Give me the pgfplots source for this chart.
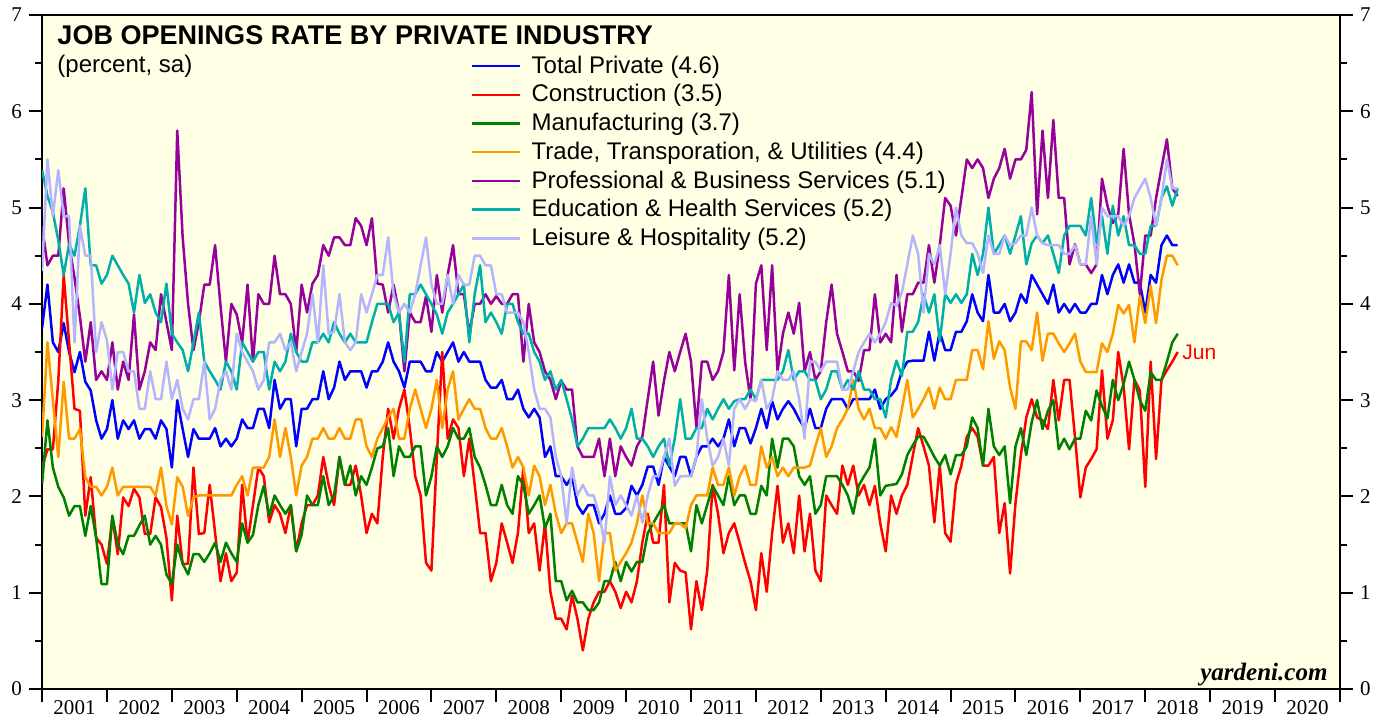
\documentclass[border=0pt]{standalone}
\usepackage{fontspec}
\setmainfont{Liberation Sans}
\newfontfamily\tnr{Liberation Serif}
\usepackage{pgfplots}
\pgfplotsset{compat=1.18}
\definecolor{bgyellow}{RGB}{255,255,230}
\definecolor{cblue}{RGB}{0,0,255}
\definecolor{cred}{RGB}{255,0,0}
\definecolor{cgreen}{RGB}{0,128,0}
\definecolor{corange}{RGB}{255,153,0}
\definecolor{cpurple}{RGB}{150,0,155}
\definecolor{cteal}{RGB}{0,175,170}
\definecolor{clav}{RGB}{180,180,255}
\begin{document}
\begin{tikzpicture}
\begin{axis}[
  width=648pt, height=336.5pt, scale only axis,
  at={(0,0)}, anchor=south west,
  xmin=0, xmax=240, ymin=0, ymax=7,
  axis background/.style={fill=bgyellow},
  axis line style={line width=1.2pt},
  xtick={0,12,...,240}, xticklabels={},
  xtick pos=bottom, ytick pos=left,
  tick align=outside,
  xtick style={line width=1pt, black},
  ytick style={line width=1pt, black},
  major tick length=6.5pt, minor tick length=3.5pt,
  extra x ticks={6,18,...,234},
  extra x tick labels={2001,2002,2003,2004,2005,2006,2007,2008,2009,2010,2011,2012,2013,2014,2015,2016,2017,2018,2019,2020},
  extra x tick style={major tick length=0pt, tick label style={yshift=-2pt}},
  ytick={0,1,...,7},
  minor ytick={0.5,1.5,...,6.5},
  tick label style={font=\tnr\fontsize{10.5}{12}\selectfont},
  /pgf/number format/assume math mode=true,
  legend cell align=left,
  legend style={at={(0.3302,0.946)}, anchor=north west, draw=none, fill=none,
    font=\fontsize{12}{14}\selectfont, inner sep=0pt, row sep=0.15pt},
  /tikz/every odd column/.append style={column sep=3pt},
  legend image code/.code={\draw[#1, line width=1.25pt] (0pt,0pt) -- (24pt,0pt);},
  every axis plot/.append style={line width=1.25pt, line join=round},
]
\addplot[cblue] coordinates {(0,3.75)(1,4.2)(2,3.6)(3,3.5)(4,3.8)(5,3.5)(6,3.29)(7,3.5)(8,3.19)(9,3.1)(10,2.79)(11,2.6)(12,2.7)(13,3.0)(14,2.6)(15,2.79)(16,2.7)(17,2.79)(18,2.6)(19,2.7)(20,2.7)(21,2.6)(22,2.79)(23,2.7)(24,2.3)(25,3.0)(26,2.7)(27,2.41)(28,2.7)(29,2.6)(30,2.6)(31,2.6)(32,2.71)(33,2.52)(34,2.6)(35,2.52)(36,2.6)(37,2.8)(38,2.71)(39,2.71)(40,2.91)(41,2.91)(42,2.71)(43,3.21)(44,2.91)(45,3.01)(46,3.01)(47,2.52)(48,2.91)(49,2.91)(50,3.01)(51,3.01)(52,3.3)(53,3.01)(54,3.13)(55,3.4)(56,3.21)(57,3.3)(58,3.3)(59,3.3)(60,3.13)(61,3.3)(62,3.3)(63,3.4)(64,3.6)(65,3.4)(66,3.3)(67,3.13)(68,3.4)(69,3.4)(70,3.4)(71,3.3)(72,3.3)(73,3.5)(74,3.4)(75,3.5)(76,3.6)(77,3.4)(78,3.5)(79,3.4)(80,3.4)(81,3.4)(82,3.21)(83,3.13)(84,3.13)(85,3.21)(86,3.01)(87,3.01)(88,3.11)(89,2.91)(90,2.82)(91,2.91)(92,2.82)(93,2.41)(94,2.52)(95,2.21)(96,2.21)(97,2.12)(98,2.21)(99,1.91)(100,1.82)(101,1.91)(102,1.91)(103,1.72)(104,1.82)(105,2.01)(106,1.82)(107,1.82)(108,1.88)(109,2.11)(110,2.01)(111,2.12)(112,2.31)(113,2.31)(114,2.12)(115,2.41)(116,2.31)(117,2.21)(118,2.41)(119,2.41)(120,2.21)(121,2.41)(122,2.52)(123,2.52)(124,2.6)(125,2.52)(126,2.6)(127,2.8)(128,2.52)(129,2.71)(130,2.71)(131,2.55)(132,2.71)(133,2.91)(134,2.71)(135,2.99)(136,2.8)(137,2.91)(138,2.99)(139,2.91)(140,2.8)(141,2.71)(142,2.91)(143,2.71)(144,2.71)(145,2.91)(146,3.01)(147,3.01)(148,3.01)(149,2.91)(150,3.01)(151,3.01)(152,3.01)(153,3.01)(154,3.11)(155,2.91)(156,3.01)(157,3.05)(158,3.12)(159,3.3)(160,3.4)(161,3.41)(162,3.41)(163,3.41)(164,3.71)(165,3.41)(166,3.71)(167,3.52)(168,3.52)(169,3.71)(170,3.71)(171,3.82)(172,4.1)(173,3.91)(174,3.82)(175,4.3)(176,3.91)(177,3.91)(178,4.0)(179,3.82)(180,3.91)(181,4.1)(182,4.01)(183,4.3)(184,4.2)(185,4.1)(186,4.0)(187,4.2)(188,3.91)(189,4.0)(190,3.91)(191,4.0)(192,3.91)(193,3.91)(194,4.0)(195,4.0)(196,4.3)(197,4.1)(198,4.3)(199,4.41)(200,4.22)(201,4.41)(202,4.22)(203,4.22)(204,3.91)(205,4.3)(206,4.22)(207,4.61)(208,4.71)(209,4.61)(210,4.61)};
\addlegendentry{Total Private (4.6)}
\addplot[cred] coordinates {(0,2.3)(1,2.49)(2,2.49)(3,3.2)(4,4.3)(5,3.6)(6,2.91)(7,2.89)(8,1.8)(9,2.2)(10,1.57)(11,1.5)(12,1.3)(13,1.78)(14,1.4)(15,1.99)(16,1.9)(17,2.08)(18,1.99)(19,1.61)(20,1.61)(21,1.99)(22,1.89)(23,1.57)(24,0.92)(25,1.8)(26,1.3)(27,1.3)(28,2.3)(29,1.61)(30,1.62)(31,2.12)(32,1.62)(33,1.12)(34,1.41)(35,1.12)(36,1.21)(37,2.12)(38,1.52)(39,1.91)(40,2.3)(41,2.21)(42,1.73)(43,1.91)(44,1.82)(45,1.62)(46,1.91)(47,1.43)(48,1.72)(49,1.91)(50,1.91)(51,2.01)(52,2.41)(53,2.12)(54,1.91)(55,2.41)(56,2.12)(57,2.12)(58,2.32)(59,2.01)(60,1.62)(61,1.82)(62,1.72)(63,2.41)(64,2.91)(65,2.6)(66,2.91)(67,3.11)(68,2.71)(69,2.21)(70,2.01)(71,1.31)(72,1.23)(73,2.41)(74,3.5)(75,2.6)(76,2.8)(77,2.71)(78,2.21)(79,2.6)(80,2.12)(81,1.62)(82,1.62)(83,1.12)(84,1.31)(85,1.72)(86,1.52)(87,1.31)(88,1.62)(89,2.3)(90,1.62)(91,1.72)(92,1.23)(93,1.72)(94,1.01)(95,0.73)(96,0.73)(97,0.62)(98,0.97)(99,0.73)(100,0.4)(101,0.73)(102,0.9)(103,1.01)(104,1.01)(105,1.12)(106,1.01)(107,0.84)(108,1.01)(109,0.9)(110,1.12)(111,1.52)(112,1.82)(113,1.52)(114,1.52)(115,2.12)(116,0.9)(117,1.31)(118,1.23)(119,1.21)(120,0.62)(121,1.12)(122,0.82)(123,1.23)(124,2.12)(125,1.82)(126,1.41)(127,1.62)(128,1.72)(129,1.52)(130,1.31)(131,1.12)(132,0.82)(133,1.41)(134,1.01)(135,1.62)(136,2.11)(137,1.52)(138,1.72)(139,1.41)(140,2.01)(141,1.43)(142,1.82)(143,1.23)(144,1.12)(145,2.01)(146,1.91)(147,1.82)(148,2.32)(149,2.12)(150,2.32)(151,2.01)(152,2.12)(153,1.91)(154,2.11)(155,1.72)(156,1.43)(157,2.01)(158,1.82)(159,2.01)(160,2.12)(161,2.42)(162,2.71)(163,2.52)(164,2.32)(165,1.73)(166,2.32)(167,1.62)(168,1.53)(169,2.13)(170,2.32)(171,2.62)(172,2.71)(173,2.62)(174,2.32)(175,2.32)(176,2.41)(177,1.62)(178,1.93)(179,1.2)(180,1.93)(181,2.43)(182,2.82)(183,3.01)(184,2.82)(185,2.79)(186,2.7)(187,3.21)(188,2.79)(189,3.21)(190,3.21)(191,2.62)(192,1.99)(193,2.3)(194,2.39)(195,2.49)(196,3.31)(197,2.6)(198,2.79)(199,3.5)(200,3.14)(201,2.49)(202,3.21)(203,3.1)(204,2.1)(205,3.4)(206,2.39)(207,3.21)(208,3.31)(209,3.4)(210,3.5)};
\addlegendentry{Construction (3.5)}
\addplot[cgreen] coordinates {(0,2.13)(1,2.79)(2,2.3)(3,2.1)(4,1.99)(5,1.8)(6,1.9)(7,1.9)(8,1.59)(9,1.9)(10,1.57)(11,1.09)(12,1.09)(13,1.8)(14,1.5)(15,1.4)(16,1.59)(17,1.59)(18,1.7)(19,1.8)(20,1.5)(21,1.59)(22,1.5)(23,1.19)(24,1.09)(25,1.5)(26,1.3)(27,1.19)(28,1.4)(29,1.4)(30,1.32)(31,1.41)(32,1.52)(33,1.32)(34,1.52)(35,1.41)(36,1.32)(37,1.72)(38,1.52)(39,1.6)(40,1.91)(41,2.11)(42,1.8)(43,2.01)(44,1.91)(45,1.82)(46,1.91)(47,1.43)(48,1.6)(49,2.01)(50,1.91)(51,1.91)(52,2.21)(53,1.91)(54,2.01)(55,2.41)(56,2.12)(57,2.32)(58,2.01)(59,2.21)(60,2.12)(61,2.3)(62,2.5)(63,2.52)(64,2.71)(65,2.21)(66,2.52)(67,2.41)(68,2.41)(69,2.52)(70,2.52)(71,2.01)(72,2.21)(73,2.52)(74,2.41)(75,2.52)(76,2.71)(77,2.6)(78,2.6)(79,2.71)(80,2.41)(81,2.3)(82,2.12)(83,1.91)(84,1.91)(85,2.12)(86,1.91)(87,1.82)(88,2.21)(89,2.12)(90,1.82)(91,1.91)(92,2.01)(93,1.67)(94,1.82)(95,1.12)(96,1.12)(97,0.92)(98,1.02)(99,0.9)(100,0.9)(101,0.82)(102,0.82)(103,0.9)(104,1.12)(105,1.12)(106,1.32)(107,1.12)(108,1.32)(109,1.22)(110,1.32)(111,1.32)(112,1.62)(113,1.72)(114,1.82)(115,1.91)(116,1.72)(117,1.72)(118,1.72)(119,1.72)(120,1.43)(121,1.91)(122,1.72)(123,1.91)(124,2.11)(125,2.01)(126,1.91)(127,2.21)(128,1.91)(129,2.01)(130,2.01)(131,1.82)(132,1.82)(133,2.11)(134,2.01)(135,2.6)(136,2.3)(137,2.6)(138,2.6)(139,2.52)(140,2.21)(141,2.12)(142,2.21)(143,1.82)(144,1.91)(145,2.21)(146,2.21)(147,2.21)(148,2.12)(149,2.01)(150,1.82)(151,2.11)(152,2.21)(153,2.3)(154,2.6)(155,2.01)(156,2.11)(157,2.12)(158,2.13)(159,2.23)(160,2.43)(161,2.53)(162,2.62)(163,2.62)(164,2.52)(165,2.41)(166,2.32)(167,2.43)(168,2.23)(169,2.43)(170,2.43)(171,2.52)(172,2.82)(173,2.71)(174,2.32)(175,2.91)(176,2.52)(177,2.43)(178,2.52)(179,1.93)(180,2.52)(181,2.71)(182,2.43)(183,2.77)(184,3.0)(185,2.7)(186,2.89)(187,3.0)(188,2.49)(189,2.6)(190,2.49)(191,2.6)(192,2.6)(193,2.89)(194,2.79)(195,3.1)(196,2.94)(197,2.81)(198,3.21)(199,3.0)(200,3.17)(201,3.4)(202,3.21)(203,3.0)(204,2.89)(205,3.29)(206,3.21)(207,3.21)(208,3.4)(209,3.6)(210,3.69)};
\addlegendentry{Manufacturing (3.7)}
\addplot[corange] coordinates {(0,2.62)(1,3.6)(2,3.0)(3,2.41)(4,3.19)(5,2.6)(6,2.6)(7,2.7)(8,2.2)(9,2.1)(10,2.1)(11,2.01)(12,2.1)(13,2.3)(14,2.01)(15,2.1)(16,2.1)(17,2.1)(18,2.1)(19,2.1)(20,2.1)(21,2.01)(22,2.3)(23,1.9)(24,1.71)(25,2.2)(26,2.1)(27,1.8)(28,1.99)(29,2.01)(30,2.01)(31,2.01)(32,2.01)(33,2.01)(34,2.01)(35,2.01)(36,2.12)(37,2.21)(38,2.01)(39,2.3)(40,2.3)(41,2.3)(42,2.41)(43,2.8)(44,2.41)(45,2.71)(46,2.41)(47,2.01)(48,2.32)(49,2.41)(50,2.6)(51,2.6)(52,2.71)(53,2.6)(54,2.6)(55,2.71)(56,2.6)(57,2.6)(58,2.8)(59,2.8)(60,2.52)(61,2.41)(62,2.6)(63,2.71)(64,2.82)(65,2.91)(66,2.6)(67,2.6)(68,2.91)(69,3.11)(70,2.91)(71,2.71)(72,2.91)(73,3.21)(74,2.71)(75,3.11)(76,3.3)(77,2.8)(78,2.91)(79,3.01)(80,2.91)(81,2.91)(82,2.71)(83,2.6)(84,2.6)(85,2.71)(86,2.52)(87,2.3)(88,2.41)(89,2.3)(90,2.01)(91,2.32)(92,2.21)(93,1.91)(94,2.12)(95,1.82)(96,1.62)(97,1.72)(98,1.72)(99,1.52)(100,1.32)(101,1.82)(102,1.62)(103,1.12)(104,1.62)(105,1.62)(106,1.23)(107,1.32)(108,1.41)(109,1.52)(110,1.72)(111,2.01)(112,1.72)(113,1.72)(114,1.62)(115,1.62)(116,1.62)(117,1.72)(118,1.72)(119,1.67)(120,1.91)(121,2.01)(122,2.01)(123,2.01)(124,2.3)(125,2.12)(126,2.12)(127,2.3)(128,2.01)(129,2.21)(130,2.32)(131,2.12)(132,2.12)(133,2.52)(134,2.3)(135,2.41)(136,2.21)(137,2.3)(138,2.21)(139,2.3)(140,2.3)(141,2.3)(142,2.32)(143,2.52)(144,2.71)(145,2.41)(146,2.52)(147,2.71)(148,2.8)(149,2.91)(150,3.21)(151,2.91)(152,2.8)(153,2.91)(154,2.71)(155,2.71)(156,2.6)(157,2.72)(158,2.62)(159,2.91)(160,3.21)(161,2.82)(162,2.91)(163,3.01)(164,3.13)(165,2.91)(166,3.13)(167,3.01)(168,3.01)(169,3.21)(170,3.21)(171,3.21)(172,3.52)(173,3.52)(174,3.32)(175,3.82)(176,3.43)(177,3.61)(178,3.52)(179,3.13)(180,2.91)(181,3.61)(182,3.61)(183,3.52)(184,3.91)(185,3.41)(186,3.69)(187,3.69)(188,3.59)(189,3.5)(190,3.59)(191,3.69)(192,3.4)(193,3.29)(194,3.29)(195,3.29)(196,3.59)(197,3.5)(198,3.69)(199,3.99)(200,3.9)(201,3.99)(202,3.6)(203,4.09)(204,3.8)(205,4.19)(206,3.8)(207,4.25)(208,4.5)(209,4.5)(210,4.4)};
\addlegendentry{Trade, Transporation, \& Utilities (4.4)}
\addplot[cpurple] coordinates {(0,4.81)(1,4.4)(2,4.5)(3,4.5)(4,5.2)(5,4.62)(6,4.27)(7,3.87)(8,3.4)(9,3.81)(10,3.21)(11,3.3)(12,3.21)(13,3.6)(14,3.11)(15,3.4)(16,3.21)(17,3.89)(18,3.11)(19,3.3)(20,3.6)(21,3.52)(22,4.1)(23,3.81)(24,3.52)(25,5.8)(26,4.69)(27,4.0)(28,3.52)(29,3.81)(30,4.2)(31,4.2)(32,4.61)(33,3.98)(34,3.4)(35,4.0)(36,3.89)(37,3.6)(38,4.2)(39,3.4)(40,4.1)(41,4.0)(42,4.0)(43,4.5)(44,4.1)(45,4.1)(46,4.0)(47,3.5)(48,4.2)(49,3.91)(50,4.21)(51,4.3)(52,4.61)(53,4.5)(54,4.69)(55,4.69)(56,4.61)(57,4.61)(58,4.89)(59,4.81)(60,4.61)(61,4.89)(62,4.21)(63,4.2)(64,3.91)(65,4.2)(66,3.91)(67,3.3)(68,3.91)(69,3.81)(70,3.81)(71,4.08)(72,3.71)(73,4.3)(74,3.91)(75,4.3)(76,4.61)(77,4.1)(78,4.1)(79,3.69)(80,4.0)(81,4.0)(82,4.1)(83,4.0)(84,4.08)(85,4.0)(86,4.0)(87,4.1)(88,4.1)(89,3.4)(90,4.0)(91,3.6)(92,3.5)(93,3.3)(94,3.21)(95,3.01)(96,3.2)(97,3.11)(98,3.11)(99,2.52)(100,2.41)(101,2.41)(102,2.41)(103,2.6)(104,2.21)(105,2.6)(106,2.21)(107,2.52)(108,2.41)(109,2.32)(110,2.52)(111,2.62)(112,3.01)(113,3.4)(114,2.84)(115,3.2)(116,3.5)(117,3.3)(118,3.5)(119,3.69)(120,3.4)(121,2.72)(122,3.4)(123,3.4)(124,3.21)(125,3.3)(126,3.5)(127,4.3)(128,3.31)(129,4.1)(130,3.4)(131,3.01)(132,4.21)(133,4.4)(134,3.52)(135,4.4)(136,3.3)(137,3.69)(138,3.91)(139,3.69)(140,4.01)(141,3.3)(142,3.5)(143,3.21)(144,3.3)(145,3.81)(146,4.2)(147,3.69)(148,3.5)(149,3.3)(150,3.3)(151,3.2)(152,3.52)(153,3.52)(154,4.1)(155,3.6)(156,3.69)(157,3.6)(158,4.3)(159,3.71)(160,4.1)(161,4.1)(162,4.22)(163,4.22)(164,4.61)(165,4.22)(166,4.61)(167,5.1)(168,5.02)(169,4.71)(170,5.1)(171,5.5)(172,5.41)(173,5.5)(174,5.41)(175,5.1)(176,5.3)(177,5.41)(178,5.61)(179,5.3)(180,5.5)(181,5.5)(182,5.6)(183,6.2)(184,4.93)(185,5.8)(186,5.1)(187,5.91)(188,5.1)(189,5.1)(190,4.41)(191,4.62)(192,4.41)(193,4.41)(194,4.32)(195,4.41)(196,5.3)(197,5.02)(198,4.84)(199,4.93)(200,5.61)(201,4.93)(202,4.62)(203,4.1)(204,4.71)(205,4.71)(206,5.1)(207,5.41)(208,5.71)(209,5.2)(210,5.12)};
\addlegendentry{Professional \& Business Services (5.1)}
\addplot[cteal] coordinates {(0,5.39)(1,5.12)(2,4.95)(3,4.66)(4,4.3)(5,4.62)(6,4.5)(7,4.81)(8,5.2)(9,4.4)(10,4.4)(11,4.21)(12,4.3)(13,4.5)(14,4.4)(15,4.3)(16,4.21)(17,3.91)(18,4.3)(19,4.01)(20,4.1)(21,3.91)(22,3.81)(23,4.21)(24,3.69)(25,3.6)(26,3.52)(27,3.3)(28,3.6)(29,3.91)(30,3.4)(31,3.3)(32,3.21)(33,3.11)(34,3.4)(35,3.3)(36,3.11)(37,3.6)(38,3.5)(39,3.4)(40,3.5)(41,3.5)(42,3.11)(43,3.4)(44,3.3)(45,3.4)(46,3.69)(47,3.5)(48,3.4)(49,3.4)(50,3.6)(51,3.6)(52,3.69)(53,3.6)(54,3.81)(55,3.69)(56,3.6)(57,3.69)(58,3.6)(59,3.6)(60,3.6)(61,3.81)(62,4.0)(63,4.0)(64,4.0)(65,3.81)(66,3.91)(67,3.4)(68,4.1)(69,4.1)(70,4.2)(71,4.1)(72,4.0)(73,3.89)(74,3.69)(75,3.91)(76,4.0)(77,4.1)(78,4.2)(79,3.6)(80,4.1)(81,4.4)(82,3.81)(83,3.91)(84,3.81)(85,3.69)(86,4.0)(87,4.0)(88,3.81)(89,3.69)(90,3.69)(91,3.5)(92,3.4)(93,3.21)(94,3.3)(95,3.11)(96,3.21)(97,3.01)(98,2.8)(99,2.52)(100,2.6)(101,2.71)(102,2.71)(103,2.71)(104,2.71)(105,2.8)(106,2.71)(107,2.6)(108,2.71)(109,2.91)(110,2.6)(111,2.6)(112,2.52)(113,2.41)(114,2.52)(115,2.6)(116,2.32)(117,2.6)(118,3.01)(119,2.6)(120,2.6)(121,2.71)(122,2.71)(123,2.91)(124,2.8)(125,2.91)(126,3.01)(127,2.91)(128,2.99)(129,3.01)(130,3.01)(131,3.11)(132,3.01)(133,3.21)(134,3.21)(135,3.21)(136,3.21)(137,3.3)(138,3.52)(139,3.21)(140,3.3)(141,3.3)(142,3.21)(143,3.21)(144,3.01)(145,3.11)(146,3.3)(147,3.3)(148,3.11)(149,3.21)(150,3.11)(151,3.3)(152,3.11)(153,3.11)(154,3.01)(155,3.01)(156,2.82)(157,3.21)(158,3.41)(159,3.25)(160,3.71)(161,3.71)(162,3.81)(163,4.1)(164,3.91)(165,4.1)(166,3.61)(167,4.1)(168,4.01)(169,4.1)(170,4.01)(171,4.1)(172,4.52)(173,4.3)(174,4.52)(175,5.0)(176,4.52)(177,4.61)(178,4.71)(179,4.52)(180,4.71)(181,4.91)(182,4.41)(183,4.63)(184,4.71)(185,4.63)(186,4.71)(187,4.52)(188,4.32)(189,4.71)(190,4.81)(191,4.81)(192,4.81)(193,4.71)(194,5.1)(195,4.63)(196,4.91)(197,4.52)(198,5.02)(199,4.71)(200,4.91)(201,4.61)(202,4.61)(203,4.52)(204,4.52)(205,4.81)(206,4.81)(207,5.1)(208,5.22)(209,5.02)(210,5.2)};
\addlegendentry{Education \& Health Services (5.2)}
\addplot[clav] coordinates {(0,4.34)(1,5.5)(2,4.91)(3,5.39)(4,4.91)(5,4.91)(6,3.6)(7,4.81)(8,4.5)(9,4.5)(10,3.5)(11,3.81)(12,3.62)(13,3.11)(14,3.5)(15,3.5)(16,3.3)(17,3.3)(18,2.91)(19,2.91)(20,3.3)(21,3.01)(22,3.01)(23,3.4)(24,3.01)(25,3.21)(26,2.91)(27,2.8)(28,3.01)(29,3.01)(30,3.4)(31,2.8)(32,2.91)(33,3.21)(34,3.3)(35,3.11)(36,3.69)(37,3.5)(38,3.4)(39,3.3)(40,3.11)(41,3.21)(42,3.6)(43,3.6)(44,3.69)(45,3.52)(46,3.6)(47,3.3)(48,3.5)(49,3.69)(50,4.1)(51,3.6)(52,4.4)(53,3.69)(54,3.71)(55,4.1)(56,3.6)(57,3.52)(58,3.6)(59,4.1)(60,3.91)(61,4.1)(62,4.3)(63,4.3)(64,4.69)(65,4.1)(66,3.91)(67,4.0)(68,3.91)(69,4.1)(70,4.4)(71,4.69)(72,4.2)(73,4.0)(74,4.0)(75,4.3)(76,4.0)(77,4.3)(78,4.2)(79,4.2)(80,4.5)(81,4.5)(82,4.4)(83,4.4)(84,4.1)(85,4.1)(86,3.91)(87,3.91)(88,3.91)(89,3.81)(90,3.5)(91,3.11)(92,2.91)(93,2.91)(94,2.82)(95,2.41)(96,2.21)(97,1.72)(98,2.3)(99,2.01)(100,2.12)(101,2.01)(102,2.01)(103,1.82)(104,1.52)(105,2.21)(106,1.91)(107,2.01)(108,1.91)(109,1.8)(110,2.01)(111,1.73)(112,2.01)(113,2.21)(114,2.21)(115,2.41)(116,2.6)(117,2.11)(118,2.21)(119,2.21)(120,2.21)(121,2.41)(122,3.01)(123,2.6)(124,2.32)(125,2.41)(126,2.6)(127,2.32)(128,2.91)(129,3.01)(130,2.91)(131,3.01)(132,2.99)(133,3.21)(134,2.91)(135,3.01)(136,3.3)(137,3.21)(138,3.21)(139,3.3)(140,3.01)(141,2.6)(142,3.4)(143,3.4)(144,3.3)(145,3.4)(146,3.4)(147,3.4)(148,3.11)(149,3.11)(150,3.3)(151,3.5)(152,3.6)(153,3.69)(154,3.6)(155,3.69)(156,3.81)(157,4.01)(158,3.98)(159,4.12)(160,4.41)(161,4.71)(162,4.52)(163,3.91)(164,4.52)(165,4.41)(166,4.61)(167,4.1)(168,4.52)(169,5.0)(170,4.71)(171,4.63)(172,4.63)(173,4.52)(174,4.32)(175,4.71)(176,4.52)(177,4.52)(178,4.71)(179,4.61)(180,4.63)(181,4.71)(182,4.71)(183,5.0)(184,4.71)(185,4.63)(186,4.61)(187,4.61)(188,4.61)(189,4.52)(190,4.52)(191,4.61)(192,4.41)(193,4.41)(194,4.91)(195,4.41)(196,5.0)(197,4.91)(198,4.91)(199,4.91)(200,4.81)(201,4.91)(202,5.1)(203,5.2)(204,5.3)(205,5.1)(206,4.81)(207,5.1)(208,5.5)(209,5.2)(210,5.2)};
\addlegendentry{Leisure \& Hospitality (5.2)}
\node[anchor=base west, inner sep=0pt, font=\bfseries\fontsize{13.5}{15}\selectfont, xshift=7.5pt, yshift=-14.5pt] at (rel axis cs:0,1) {JOB OPENINGS RATE BY PRIVATE INDUSTRY};
\node[anchor=base west, inner sep=0pt, font=\fontsize{12}{14}\selectfont, xshift=7.5pt, yshift=-28.5pt] at (rel axis cs:0,1) {(percent, sa)};
\node[anchor=base east, inner sep=0pt, font=\tnr\bfseries\itshape\fontsize{12.5}{14}\selectfont, xshift=-6pt, yshift=4pt] at (rel axis cs:1,0) {yardeni.com};
\node[anchor=west, inner sep=0pt, text=cred, font=\fontsize{10.5}{12}\selectfont] at (axis cs:210.8,3.5) {Jun};
\end{axis}
\begin{axis}[
  width=648pt, height=336.5pt, scale only axis,
  at={(0,0)}, anchor=south west,
  xmin=0, xmax=240, ymin=0, ymax=7,
  hide x axis,
  axis y line*=right,
  y axis line style={-, line width=1.2pt},
  ytick pos=right, yticklabel pos=right,
  tick align=outside,
  ytick style={line width=1pt, black},
  major tick length=6.5pt, minor tick length=3.5pt,
  ytick={0,1,...,7},
  minor ytick={0.5,1.5,...,6.5},
  tick label style={font=\tnr\fontsize{10.5}{12}\selectfont},
  /pgf/number format/assume math mode=true,
]
\addplot[draw=none] coordinates {(0,0)};
\end{axis}
\pgfresetboundingbox
\useasboundingbox (-21pt,-15.5pt) rectangle (669pt,344pt);
\end{tikzpicture}
\end{document}
